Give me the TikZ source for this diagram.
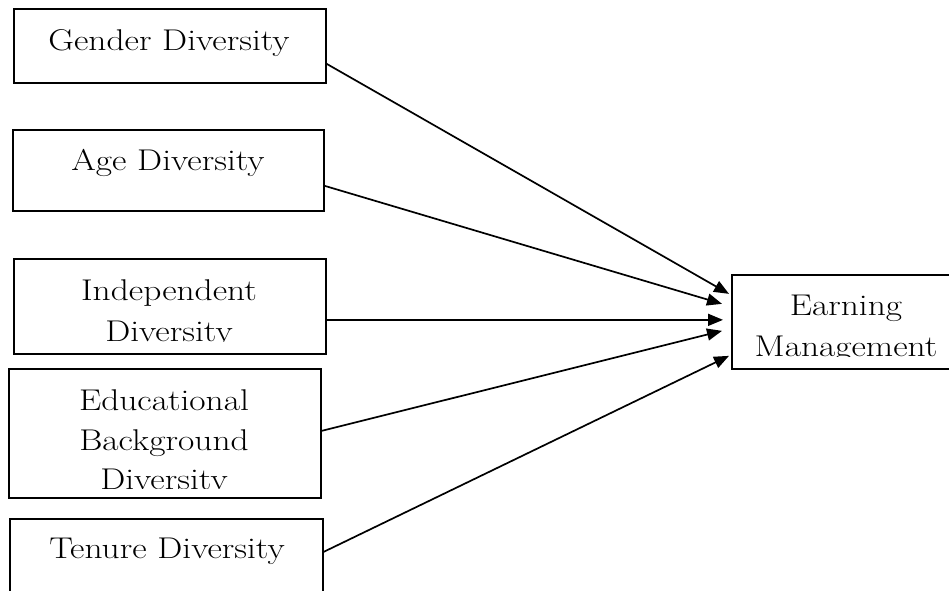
\documentclass[tikz,border=0pt]{standalone}
\usepackage{graphicx}
\usetikzlibrary{arrows.meta}
\newcommand{\sx}[1]{\scalebox{1.18}[1]{#1}}
\begin{document}
\begin{tikzpicture}[x=1pt,y=-1pt,
  box/.style={draw,line width=1.7pt,inner sep=0pt,anchor=north west},
  lbl/.style={anchor=base,inner sep=0pt,font=\fontsize{30}{40}\selectfont},
  conn/.style={line width=1.7pt,-{Triangle[length=15pt,width=12pt]}}]
\useasboundingbox (0,0) rectangle (949,590);
\clip (0,0) rectangle (949,590);
\fill[white] (0,0) rectangle (949,590);
% boxes
\node[box,minimum width=312pt,minimum height=74pt] (g) at (13,8) {};
\node[box,minimum width=311pt,minimum height=81pt] (a) at (12,129) {};
\node[box,minimum width=312pt,minimum height=95pt] (i) at (13,258) {};
\node[box,minimum width=312pt,minimum height=129pt] (e) at (8,368) {};
\node[box,minimum width=313pt,minimum height=90pt] (t) at (9,518) {};
\node[box,minimum width=230pt,minimum height=94pt] (m) at (731,274) {};
% texts
\node[lbl] (gt) at (169,50) {\sx{Gender Diversity}};
\node[lbl] (at) at (168,170) {\sx{Age Diversity}};
\node[lbl] (it1) at (169,300) {\sx{Independent}};
\begin{scope}
  \clip (13,258) rectangle (325,341);
  \node[lbl] (it2) at (169,341) {\sx{Diversity}};
\end{scope}
\node[lbl] (et1) at (164,410) {\sx{Educational}};
\node[lbl] (et2) at (164,450) {\sx{Background}};
\begin{scope}
  \clip (8,368) rectangle (320,488.5);
  \node[lbl] (et3) at (164,489) {\sx{Diversity}};
\end{scope}
\node[lbl] (tt) at (167,558) {\sx{Tenure Diversity}};
\node[lbl] (mt1) at (846,315) {\sx{Earning}};
\begin{scope}
  \clip (731,274) rectangle (949,356);
  \node[lbl] (mt2) at (846,356) {\sx{Management}};
\end{scope}
% connector end points
\coordinate (mg) at ([xshift=-2pt,yshift=28pt]m.west);
\coordinate (ma) at ([xshift=-9pt,yshift=18pt]m.west);
\coordinate (mi) at ([xshift=-8pt,yshift=2pt]m.west);
\coordinate (me) at ([xshift=-9pt,yshift=-9pt]m.west);
\coordinate (mtt) at ([xshift=-2pt,yshift=-34pt]m.west);
% connectors
\draw[conn] ([yshift=-18pt]g.east) -- (mg);
\draw[conn] ([yshift=-15.5pt]a.east) -- (ma);
\draw[conn] ([yshift=-13.5pt]i.east) -- (mi);
\draw[conn] ([yshift=2.5pt]e.east) -- (me);
\draw[conn] ([yshift=12pt]t.east) -- (mtt);
\end{tikzpicture}
\end{document}
